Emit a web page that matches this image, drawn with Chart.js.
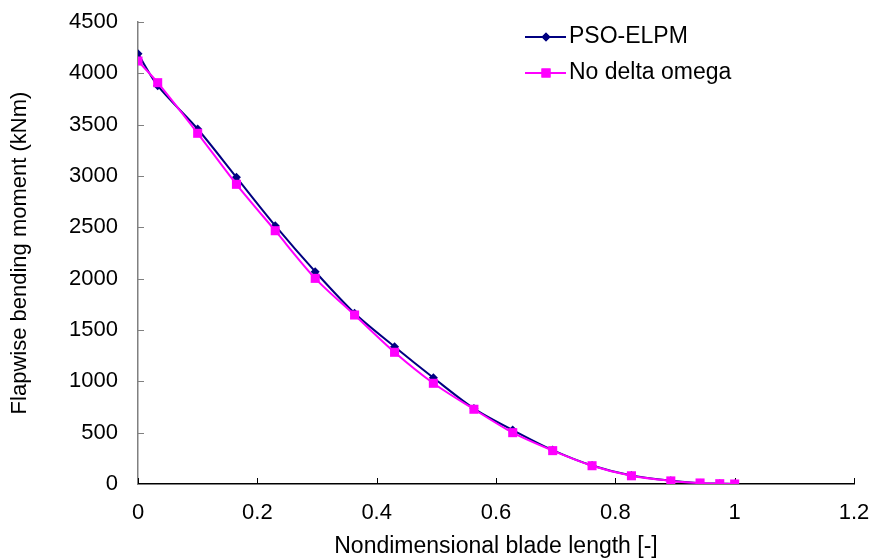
<!DOCTYPE html>
<html>
<head>
<meta charset="utf-8">
<script src="https://cdn.jsdelivr.net/npm/chart.js@4/dist/chart.umd.min.js"></script>
<style>
  html, body { margin: 0; padding: 0; background: #fff; }
  #wrap { width: 874px; height: 560px; }
</style>
</head>
<body>
<div id="wrap"><canvas id="moment-chart" width="874" height="560"></canvas></div>
<script>
// Blade positions and flapwise moments (kNm)
const bladePos = [0, 0.033, 0.1, 0.165, 0.23, 0.297, 0.363, 0.43, 0.495, 0.563, 0.628, 0.695, 0.761, 0.827, 0.893, 0.942, 0.975, 1.0];
const psoElpm = [4190, 3880, 3458, 2987, 2516, 2068, 1663, 1337, 1035, 735, 526, 330, 180, 83, 32, 8, 3, 0];
const noDeltaOmega = [4120, 3909, 3416, 2919, 2467, 2003, 1646, 1283, 981, 728, 500, 325, 178, 80, 30, 10, 3, 0];
const seriesNames = ['PSO-ELPM', 'No delta omega'];

const FONT = '"Liberation Sans", Arial, sans-serif';
const NAVY = '#000080';
const MAGENTA = '#ff00ff';

function toPoints(xs, ys) {
    return xs.map((x, i) => ({ x: x, y: ys[i] }));
}

// Excel-style tick marks pointing into the plot area
const innerTicks = {
    id: 'innerTicks',
    beforeDatasetsDraw(chart) {
        const ctx = chart.ctx;
        const { x, y } = chart.scales;
        const area = chart.chartArea;
        ctx.save();
        ctx.lineWidth = 1;
        ctx.strokeStyle = '#000';
        x.ticks.forEach(t => {
            const px = Math.round(x.getPixelForValue(t.value)) + 0.5;
            ctx.beginPath();
            ctx.moveTo(px, area.bottom);
            ctx.lineTo(px, area.bottom - 6);
            ctx.stroke();
        });
        ctx.strokeStyle = '#808080';
        y.ticks.forEach(t => {
            const py = Math.round(y.getPixelForValue(t.value)) + 0.5;
            ctx.beginPath();
            ctx.moveTo(area.left, py);
            ctx.lineTo(area.left + 6, py);
            ctx.stroke();
        });
        ctx.restore();
    }
};

// Legend inside the plot, top right
const insideLegend = {
    id: 'insideLegend',
    afterDraw(chart) {
        const ctx = chart.ctx;
        const entries = [
            { label: seriesNames[0], color: NAVY, style: 'rectRot', r: 4.5, y: 37 },
            { label: seriesNames[1], color: MAGENTA, style: 'rect', r: 6.4, y: 73 }
        ];
        ctx.save();
        entries.forEach(e => {
            ctx.strokeStyle = e.color;
            ctx.lineWidth = 2;
            ctx.beginPath();
            ctx.moveTo(525, e.y);
            ctx.lineTo(566, e.y);
            ctx.stroke();
            ctx.fillStyle = e.color;
            Chart.helpers.drawPoint(ctx, { pointStyle: e.style, radius: e.r, borderWidth: 0 }, 546, e.y);
            ctx.fill();
            ctx.fillStyle = '#000';
            ctx.font = '23px ' + FONT;
            ctx.textBaseline = 'middle';
            ctx.textAlign = 'left';
            ctx.fillText(e.label, 569, e.y);
        });
        ctx.restore();
    }
};

new Chart(document.getElementById('moment-chart').getContext('2d'), {
    type: 'line',
    data: {
        datasets: [
            {
                label: seriesNames[1],
                data: toPoints(bladePos, noDeltaOmega),
                borderColor: MAGENTA,
                backgroundColor: MAGENTA,
                borderWidth: 2,
                pointStyle: 'rect',
                pointRadius: 6.4,
                pointBorderWidth: 0,
                tension: 0.3,
                order: 0
            },
            {
                label: seriesNames[0],
                data: toPoints(bladePos, psoElpm),
                borderColor: NAVY,
                backgroundColor: NAVY,
                borderWidth: 2,
                pointStyle: 'rectRot',
                pointRadius: 4.5,
                pointBorderWidth: 0,
                tension: 0.3,
                order: 1
            }
        ]
    },
    options: {
        responsive: false,
        animation: false,
        layout: { padding: { left: 0, top: 22, right: 20, bottom: 0 } },
        plugins: {
            legend: { display: false },
            tooltip: { enabled: false }
        },
        scales: {
            x: {
                type: 'linear',
                min: 0,
                max: 1.2,
                grid: { display: true, drawOnChartArea: false, drawTicks: true, tickLength: 13, tickColor: 'rgba(0,0,0,0)' },
                border: { display: true, color: '#000', width: 1.5 },
                ticks: {
                    stepSize: 0.2,
                    padding: 3,
                    color: '#000',
                    font: { family: FONT, size: 22 },
                    maxRotation: 0,
                    callback: v => String(Number(v.toFixed(1)))
                },
                title: {
                    display: true,
                    text: 'Nondimensional blade length [-]',
                    color: '#000',
                    font: { family: FONT, size: 23 },
                    padding: { top: 0, bottom: 0 }
                },
                afterFit: s => { s.height = 76; }
            },
            y: {
                min: 0,
                max: 4500,
                grid: { display: true, drawOnChartArea: false, drawTicks: true, tickLength: 17, tickColor: 'rgba(0,0,0,0)' },
                border: { display: true, color: '#808080', width: 1.5 },
                ticks: {
                    stepSize: 500,
                    padding: 3,
                    color: '#000',
                    font: { family: FONT, size: 22 },
                    callback: v => String(v)
                },
                title: {
                    display: true,
                    text: 'Flapwise bending moment (kNm)',
                    color: '#000',
                    font: { family: FONT, size: 22 },
                    padding: { top: 7, bottom: 7 }
                },
                afterFit: s => { s.width = 138; }
            }
        }
    },
    plugins: [innerTicks, insideLegend]
});
</script>
</body>
</html>
